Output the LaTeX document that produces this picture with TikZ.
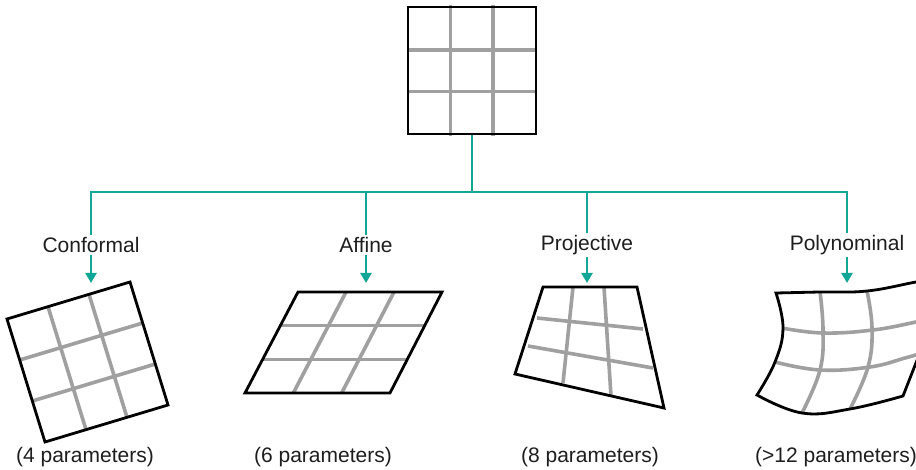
\documentclass[tikz,border=0pt]{standalone}
\usepackage{fontspec}
\setmainfont{Liberation Sans}
\usetikzlibrary{arrows.meta,calc}
\definecolor{teal1}{RGB}{18,166,150}
\definecolor{grid1}{RGB}{160,160,160}
\definecolor{txt1}{RGB}{30,30,30}
\tikzset{
  gridline/.style={draw=grid1, line width=3.6pt},
  border/.style={draw=black, line width=2.8pt, line join=miter},
  conn/.style={draw=teal1, line width=2.8pt},
  connarrow/.style={conn, -{Triangle[width=11pt,length=10pt]}},
  lbl/.style={font=\fontsize{21}{25}\selectfont, text=txt1, fill=white, inner sep=2pt},
  captext/.style={font=\fontsize{21}{25}\selectfont, text=txt1, anchor=base}
}
\begin{document}
\begin{tikzpicture}[x=1pt,y=-1pt]
\useasboundingbox (0,0) rectangle (916,470);
\clip (0,0) rectangle (916,470);

% ---- source square
\draw[gridline] (450.5,5) -- (450.5,136);
\draw[gridline] (493,5) -- (493,136);
\draw[gridline] (408,50) -- (536,50);
\draw[gridline] (408,91.5) -- (536,91.5);
\node[border, minimum width=128pt, minimum height=127pt, inner sep=0pt] (src) at (472,70.5) {};

% ---- tree connectors
\coordinate (j) at (472,192);
\coordinate (b1) at (91,192);
\coordinate (b2) at (366,192);
\coordinate (b3) at (587,192);
\coordinate (b4) at (847,192);
\coordinate (t1) at (91,283);
\coordinate (t2) at (366,283);
\coordinate (t3) at (587,283);
\coordinate (t4) at (847,283);
\draw[conn] (src.south) -- (j);
\draw[conn, line cap=rect] (b1) -- (b4);
\foreach \i in {1,2,3,4} {\draw[connarrow] (b\i) -- (t\i);}
\node[lbl] (l1) at (91,245) {Conformal};
\node[lbl] (l2) at (366,245) {Affine};
\node[lbl] (l3) at (587,245) {Projective};
\node[lbl] (l4) at (847,245) {Polynominal};

% ---- conformal (rotated square)
\coordinate (c1) at (7,319);
\coordinate (c2) at (130,282);
\coordinate (c3) at (168,405);
\coordinate (c4) at (45,442);
\draw[gridline] ($(c1)!1/3!(c2)$) -- ($(c4)!1/3!(c3)$);
\draw[gridline] ($(c1)!2/3!(c2)$) -- ($(c4)!2/3!(c3)$);
\draw[gridline] ($(c1)!1/3!(c4)$) -- ($(c2)!1/3!(c3)$);
\draw[gridline] ($(c1)!2/3!(c4)$) -- ($(c2)!2/3!(c3)$);
\draw[border] (c1) -- (c2) -- (c3) -- (c4) -- cycle;

% ---- affine
\coordinate (a1) at (298,292);
\coordinate (a2) at (442,292);
\coordinate (a3) at (390,393);
\coordinate (a4) at (245,393);
\draw[gridline] ($(a1)!1/3!(a2)$) -- ($(a4)!1/3!(a3)$);
\draw[gridline] ($(a1)!2/3!(a2)$) -- ($(a4)!2/3!(a3)$);
\draw[gridline] ($(a1)!1/3!(a4)$) -- ($(a2)!1/3!(a3)$);
\draw[gridline] ($(a1)!2/3!(a4)$) -- ($(a2)!2/3!(a3)$);
\draw[border] (a1) -- (a2) -- (a3) -- (a4) -- cycle;

% ---- projective
\draw[gridline] (573,287) -- (563,383);
\draw[gridline] (604,287) -- (611,396);
\draw[gridline] (537,318) -- (643,329);
\draw[gridline] (528,346) -- (653,368);
\draw[border] (543,287) -- (637,287) -- (664,408) -- (515,374) -- cycle;

% ---- polynomial
\draw[gridline] plot[smooth, tension=0.7] coordinates {(820,292) (823,330) (820,370) (802,413)};
\draw[gridline] plot[smooth, tension=0.7] coordinates {(867,291) (872,328) (868,367) (850,409)};
\draw[gridline] plot[smooth, tension=0.7] coordinates {(782,328) (823,333) (873,330) (916,322) (933,318)};
\draw[gridline] plot[smooth, tension=0.7] coordinates {(775,362) (820,370) (870,367) (905,358) (919,354)};
\draw[border] plot[smooth, tension=0.7] coordinates {(776,293) (820,292) (867,291) (916,282) (950,276)}
  -- (903,396)
  -- plot[smooth, tension=0.7] coordinates {(903,396) (850,409) (802,413) (757,395)}
  -- plot[smooth, tension=0.7] coordinates {(757,395) (775,362) (783,328) (776,293)} -- cycle;

% ---- captions
\node[captext] (p1) at (85,462) {(4 parameters)};
\node[captext] (p2) at (323,462) {(6 parameters)};
\node[captext] (p3) at (590,462) {(8 parameters)};
\node[captext] (p4) at (836,462) {(>12 parameters)};
\end{tikzpicture}
\end{document}
